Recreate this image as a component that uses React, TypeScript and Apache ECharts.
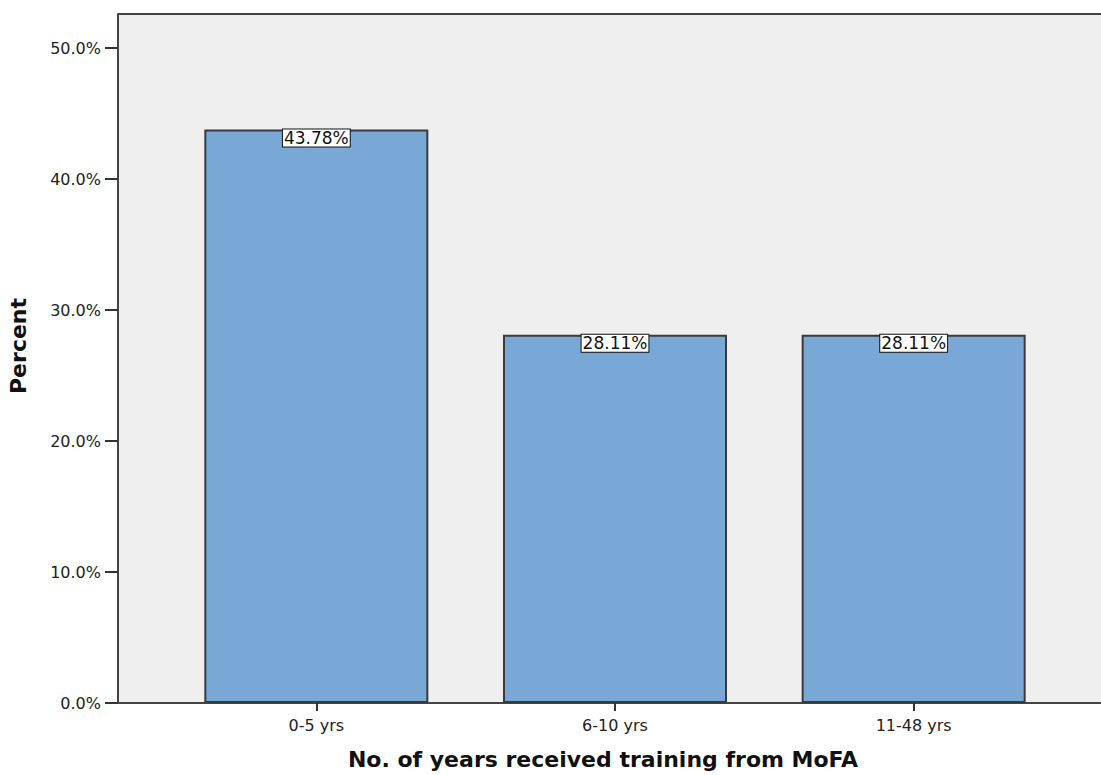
import React, { useEffect, useRef } from "react";
import * as echarts from "echarts";

const categories = ["0-5 yrs", "6-10 yrs", "11-48 yrs"];
const percents = [43.78, 28.11, 28.11];
const yTicks = [0, 10, 20, 30, 40, 50];
const yMax = 52.6;
const xTitle = "No. of years received training from MoFA";
const yTitle = "Percent";

export default function App() {
  const ref = useRef<HTMLDivElement>(null);
  useEffect(() => {
    if (!ref.current) return;
    const chart = echarts.init(ref.current, undefined, { renderer: "svg" });
    const font = "DejaVu Sans";
    chart.setOption({
      animation: false,
      grid: [
        { left: 118, right: 0, top: 14, bottom: 72, show: true, backgroundColor: "#efefef", borderWidth: 0 },
        { left: 167, width: 896, top: 14, bottom: 72 },
      ],
      graphic: [
        { type: "line", shape: { x1: 118, y1: 14, x2: 1101, y2: 14 }, style: { stroke: "#444", lineWidth: 2 } },
        {
          type: "text",
          x: 603,
          y: 759,
          style: {
            text: xTitle,
            fontFamily: font,
            fontSize: 22,
            fontWeight: "bold",
            fill: "#111",
            textAlign: "center",
            textVerticalAlign: "middle",
          },
        },
        {
          type: "text",
          x: 18,
          y: 346,
          rotation: Math.PI / 2,
          style: {
            text: yTitle,
            fontFamily: font,
            fontSize: 22,
            fontWeight: "bold",
            fill: "#111",
            textAlign: "center",
            textVerticalAlign: "middle",
          },
        },
      ],
      xAxis: [
        {
          type: "value",
          gridIndex: 0,
          min: 0,
          max: 1,
          axisLine: { show: true, lineStyle: { color: "#444", width: 2 } },
          axisTick: { show: false },
          axisLabel: { show: false },
          splitLine: { show: false },
        },
        {
          type: "category",
          gridIndex: 1,
          data: categories,
          axisLine: { show: false },
          axisTick: { show: true, alignWithLabel: true, length: 8, lineStyle: { color: "#333", width: 2 } },
          axisLabel: { color: "#222", fontFamily: font, fontSize: 16, margin: 14 },
        },
      ],
      yAxis: [
        {
          type: "value",
          gridIndex: 0,
          min: 0,
          max: yMax,
          axisLine: { show: true, lineStyle: { color: "#444", width: 2 } },
          axisTick: { show: true, length: 13, customValues: yTicks, lineStyle: { color: "#333", width: 2 } },
          axisLabel: {
            color: "#222",
            fontFamily: font,
            fontSize: 16,
            margin: 17,
            customValues: yTicks,
            formatter: (v: number) => v.toFixed(1) + "%",
          },
          splitLine: { show: false },
        },
        { type: "value", gridIndex: 1, min: 0, max: yMax, show: false },
      ],
      series: [
        {
          type: "bar",
          xAxisIndex: 1,
          yAxisIndex: 1,
          data: percents,
          barWidth: "75%",
          itemStyle: { color: "#79a8d6", borderColor: "#3a3a3a", borderWidth: 2 },
          label: {
            show: true,
            position: "insideTop",
            distance: 0,
            formatter: (p: any) => p.value.toFixed(2) + "%",
            fontFamily: font,
            fontSize: 17,
            color: "#111",
            backgroundColor: "#fff",
            borderColor: "#111",
            borderWidth: 1,
            padding: [0, 1, 0, 1],
          },
        },
        {
          type: "line",
          xAxisIndex: 0,
          yAxisIndex: 0,
          data: [],
        },
      ],
    });
    return () => chart.dispose();
  }, []);
  return <div ref={ref} style={{ width: 1101, height: 775, position: "absolute", left: 0, top: 0 }} />;
}
